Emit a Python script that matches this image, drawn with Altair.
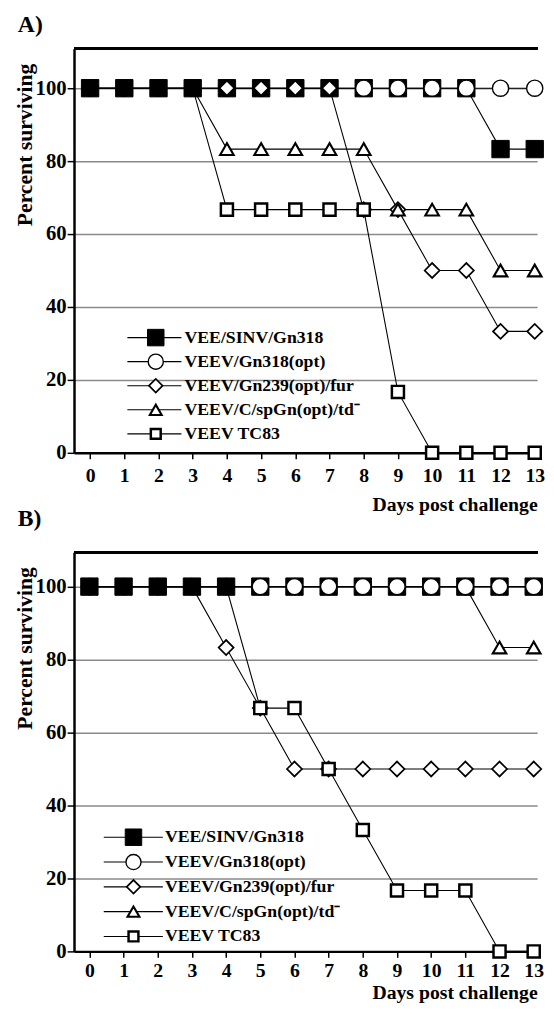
import altair as alt
import pandas as pd

days = [0, 1, 2, 3, 4, 5, 6, 7, 8, 9, 10, 11, 12, 13]
series_names = ["VEE/SINV/Gn318", "VEEV/Gn318(opt)", "VEEV/Gn239(opt)/fur",
                "VEEV/C/spGn(opt)/td\u207b", "VEEV TC83"]

# Panel A values (percent surviving per day)
a_sinv = [100, 100, 100, 100, 100, 100, 100, 100, 100, 100, 100, 100, 83.3, 83.3]
a_opt = [100, 100, 100, 100, 100, 100, 100, 100, 100, 100, 100, 100, 100, 100]
a_fur = [100, 100, 100, 100, 100, 100, 100, 100, 66.7, 66.7, 50, 50, 33.3, 33.3]
a_td = [100, 100, 100, 100, 83.3, 83.3, 83.3, 83.3, 83.3, 66.7, 66.7, 66.7, 50, 50]
a_tc83 = [100, 100, 100, 100, 66.7, 66.7, 66.7, 66.7, 66.7, 16.7, 0, 0, 0, 0]

# Panel B values
b_sinv = [100, 100, 100, 100, 100, 100, 100, 100, 100, 100, 100, 100, 100, 100]
b_opt = [100, 100, 100, 100, 100, 100, 100, 100, 100, 100, 100, 100, 100, 100]
b_fur = [100, 100, 100, 100, 83.3, 66.7, 50, 50, 50, 50, 50, 50, 50, 50]
b_td = [100, 100, 100, 100, 100, 100, 100, 100, 100, 100, 100, 100, 83.3, 83.3]
b_tc83 = [100, 100, 100, 100, 100, 66.7, 66.7, 50, 33.3, 16.7, 16.7, 16.7, 0, 0]

y_ticks = [0, 20, 40, 60, 80, 100]

# styles
shape_range = ["square", "circle", "diamond", "triangle-up", "square"]
fill_range = ["black", "white", "white", "white", "white"]
size_range = [310, 150, 200, 95, 125]
legend_size_range = [280, 100, 120, 85, 110]
sw_range = [1, 2.5, 2.5, 2.5, 2.5]
base_z = [5, 1, 2, 3, 4]
SERIF = "Liberation Serif"


def long_table(vals):
    sinv, opt, fur, td, tc = vals
    rows = []
    for s_i, (name, arr) in enumerate(zip(series_names, vals)):
        for d, v in zip(days, arr):
            z = base_z[s_i]
            if s_i == 0 and tc[d] == 100:
                z = 10
            elif s_i == 2 and v == 100:
                z = 9
            elif s_i == 1 and fur[d] != 100:
                z = 8
            rows.append({"day": d, "value": v, "series": name, "z": z})
    return pd.DataFrame(rows)


def panel(vals, label, xdom, ydom, w, h, leg, title_offset, x_label_pad, x_title_pad):
    df = long_table(vals)
    xs = alt.Scale(domain=xdom, nice=False, zero=False)
    ys = alt.Scale(domain=ydom, nice=False, zero=False)
    sh = alt.Scale(domain=series_names, range=shape_range)
    fl = alt.Scale(domain=series_names, range=fill_range)
    sz = alt.Scale(domain=series_names, range=size_range)
    lsz = alt.Scale(domain=series_names, range=legend_size_range)
    swc = alt.Scale(domain=series_names, range=sw_range)

    xaxis = alt.Axis(values=days, title="Days post challenge", grid=False,
                     domainColor="black", domainWidth=2.5, tickColor="black",
                     tickWidth=1.5, tickSize=6, labelFont=SERIF, labelFontWeight="bold",
                     labelFontSize=20, labelColor="black", labelPadding=x_label_pad,
                     labelFlush=False, labelOverlap=False, labelBound=False,
                     titleFont=SERIF, titleFontWeight="bold", titleFontSize=20,
                     titleColor="black", titleAnchor="end", titlePadding=x_title_pad)
    yaxis = alt.Axis(values=y_ticks, title="Percent surviving", grid=True,
                     gridColor="#8a8a8a", gridWidth=1.5, domainColor="black",
                     domainWidth=2.5, tickColor="black", tickWidth=1.5, tickSize=7,
                     labelFont=SERIF, labelFontWeight="bold", labelFontSize=21,
                     labelColor="black", labelPadding=1, labelOverlap=False,
                     titleFont=SERIF, titleFontWeight="bold", titleFontSize=22,
                     titleColor="black", titleAngle=270, titleX=-50, titleY=97,
                     titleAlign="center", titleBaseline="middle")

    X = alt.X("day:Q", scale=xs, axis=xaxis)
    Y = alt.Y("value:Q", scale=ys, axis=yaxis)
    LY = alt.Y("ly:Q", scale=ys, axis=yaxis)

    base = alt.Chart(df)
    lines = base.mark_line(color="black", strokeWidth=1.1).encode(
        x=X, y=Y, detail="series:N",
    )
    pts = base.mark_point(filled=True, stroke="black", opacity=1).encode(
        x=X, y=Y,
        shape=alt.Shape("series:N", scale=sh, legend=None),
        fill=alt.Fill("series:N", scale=fl, legend=None),
        size=alt.Size("series:N", scale=sz, legend=None),
        strokeWidth=alt.StrokeWidth("series:N", scale=swc, legend=None),
        order=alt.Order("z:Q"),
    )

    # legend built from the series names
    x_line0, x_mark, x_line1, x_text, y_top, y_step = leg
    ldf = pd.DataFrame({
        "series": series_names,
        "ly": [y_top - i * y_step for i in range(len(series_names))],
    })
    lbase = alt.Chart(ldf)
    lrule = lbase.mark_rule(color="black", strokeWidth=1.1).encode(
        x=alt.datum(x_line0, scale=xs, axis=xaxis), x2=alt.datum(x_line1),
        y=LY,
    )
    lpts = lbase.mark_point(filled=True, stroke="black", opacity=1).encode(
        x=alt.datum(x_mark, scale=xs, axis=xaxis),
        y=LY,
        shape=alt.Shape("series:N", scale=sh, legend=None),
        fill=alt.Fill("series:N", scale=fl, legend=None),
        size=alt.Size("series:N", scale=lsz, legend=None),
        strokeWidth=alt.StrokeWidth("series:N", scale=swc, legend=None),
    )
    ltext = lbase.mark_text(align="left", baseline="middle", font=SERIF,
                            fontWeight="bold", fontSize=18, color="black").encode(
        x=alt.datum(x_text, scale=xs, axis=xaxis),
        y=LY,
        text="series:N",
    )
    top = alt.Chart(df).mark_rule(color="black", strokeWidth=2.5).encode(
        x=alt.value(0), x2=alt.value(w), y=alt.value(0)
    )
    return alt.layer(lines, lrule, ltext, lpts, pts, top).resolve_scale(
        size="independent"
    ).properties(
        width=w, height=h,
        title=alt.TitleParams(label, anchor="start", frame="group", dx=-57,
                              font=SERIF, fontWeight="bold", fontSize=24,
                              color="black", offset=title_offset),
    )


pa = panel([a_sinv, a_opt, a_fur, a_td, a_tc83], "A)", [-0.47, 13.07], [0, 110.8],
           470, 410, (1.09, 1.92, 2.67, 2.76, 31.6, 6.6), 11, 7, 10)
pb = panel([b_sinv, b_opt, b_fur, b_td, b_tc83], "B)", [-0.45, 13.1], [0, 109.4],
           470, 405, (0.42, 1.29, 2.15, 2.21, 31.3, 6.8), 20, 3, 3)

chart = alt.vconcat(pa, pb, spacing=-8).properties(
    padding={"left": 6, "top": -3, "right": 0, "bottom": -3}
).configure_view(stroke=None).configure_axis(labelOverlap=False)

chart.save("out.html", embed_options={"renderer": "svg", "actions": False})
